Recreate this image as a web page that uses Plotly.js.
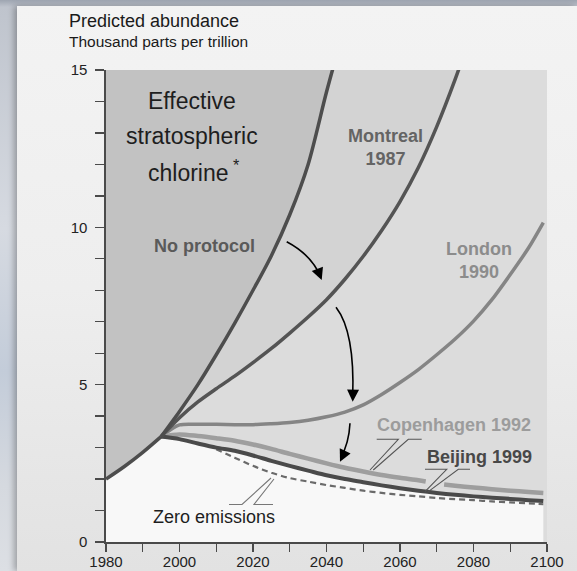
<!DOCTYPE html>
<html>
<head>
<meta charset="utf-8">
<script src="https://cdn.plot.ly/plotly-3.0.1.min.js"></script>
<style>
  html, body { margin:0; padding:0; width:577px; height:571px; overflow:hidden; }
  body { background: linear-gradient(to bottom, #9ea5b1 0px, #bfc4cd 7px, #d6dae1 40%, #c3ccd9 65%, #d5d9df 85%, #dcdfe4 100%); position:relative; }
  #card { position:absolute; left:17px; top:6px; width:560px; height:565px;
          background: linear-gradient(to bottom, #f3f3f3 0%, #eeeeee 50%, #e2e2e2 100%);
          box-shadow: -3px 0 6px rgba(0,0,0,0.28); }
  #chart { position:absolute; left:0; top:0; width:577px; height:571px; }
</style>
</head>
<body>
<div id="card"></div>
<div id="chart"></div>
<script>
// ---- Data (thousand parts per trillion) ----
const histYears = [1980, 1985, 1990, 1995];
const histValues = [2.0, 2.4, 2.85, 3.35];

const noProtocolYears = [1995, 2000, 2005, 2010, 2015, 2020, 2025, 2030, 2035, 2040, 2044];
const noProtocolValues = [3.35, 4.15, 5.0, 5.95, 6.95, 8.0, 9.1, 10.4, 12.0, 14.3, 16.0];

const montrealYears = [1995, 2000, 2005, 2010, 2015, 2020, 2025, 2030, 2035, 2040, 2045, 2050, 2055, 2060, 2065, 2070, 2075, 2078];
const montrealValues = [3.35, 3.95, 4.45, 4.87, 5.27, 5.7, 6.15, 6.64, 7.15, 7.7, 8.35, 9.08, 9.9, 10.82, 11.9, 13.2, 14.7, 15.7];

const londonYears = [1995, 2000, 2005, 2010, 2015, 2020, 2025, 2030, 2035, 2040, 2045, 2050, 2055, 2060, 2065, 2070, 2075, 2080, 2085, 2090, 2095, 2099];
const londonValues = [3.35, 3.72, 3.74, 3.74, 3.73, 3.73, 3.76, 3.8, 3.87, 3.98, 4.13, 4.36, 4.69, 5.07, 5.48, 5.95, 6.45, 7.02, 7.7, 8.5, 9.35, 10.15];

const copenhagenYears = [1995, 2000, 2005, 2010, 2015, 2020, 2025, 2030, 2035, 2040, 2045, 2050, 2055, 2060, 2065, 2067, 2069, 2072, 2075, 2080, 2085, 2090, 2095, 2099];
const copenhagenValues = [3.35, 3.42, 3.37, 3.3, 3.22, 3.1, 2.96, 2.8, 2.65, 2.5, 2.36, 2.24, 2.13, 2.04, 1.96, 1.92, null, 1.83, 1.79, 1.73, 1.68, 1.63, 1.59, 1.56];

const beijingYears = [1995, 2000, 2005, 2010, 2015, 2020, 2025, 2030, 2035, 2040, 2045, 2050, 2055, 2060, 2065, 2070, 2075, 2080, 2085, 2090, 2095, 2099];
const beijingValues = [3.35, 3.27, 3.13, 3.0, 2.9, 2.75, 2.58, 2.42, 2.27, 2.12, 2.0, 1.9, 1.8, 1.71, 1.63, 1.56, 1.5, 1.45, 1.41, 1.37, 1.33, 1.3];

const zeroYears = [2010, 2015, 2020, 2025, 2030, 2035, 2040, 2045, 2050, 2055, 2060, 2065, 2070, 2075, 2080, 2085, 2090, 2095, 2099];
const zeroValues = [2.95, 2.68, 2.42, 2.2, 2.03, 1.92, 1.81, 1.72, 1.63, 1.56, 1.5, 1.45, 1.4, 1.36, 1.33, 1.29, 1.26, 1.23, 1.2];

const xTickVals = [1980, 2000, 2020, 2040, 2060, 2080, 2100];
const xTickText = ['1980', '2000', '2020', '2040', '2060', '2080', '2100'];
const yTickVals = [0, 5, 10, 15];
const yTickText = ['0', '5', '10', '15'];

// ---- Shaded regions built from the series ----
const TOP = 16.5;
const darkX = histYears.concat(noProtocolYears.slice(1), [noProtocolYears[noProtocolYears.length - 1], histYears[0]]);
const darkY = histValues.concat(noProtocolValues.slice(1), [TOP, TOP]);

const midX = montrealYears.concat([montrealYears[montrealYears.length - 1], noProtocolYears[noProtocolYears.length - 1]], noProtocolYears.slice().reverse());
const midY = montrealValues.concat([TOP, TOP], noProtocolValues.slice().reverse());

const lowX = histYears.concat(beijingYears.slice(1));
const lowY = histValues.concat(beijingValues.slice(1));

const FONT = '"Liberation Sans", Arial, Helvetica, sans-serif';

const traces = [
  { x: lowX, y: lowY, mode: 'lines', fill: 'tozeroy', fillcolor: '#f8f8f8', line: { width: 0 }, hoverinfo: 'skip' },
  { x: darkX, y: darkY, mode: 'lines', fill: 'toself', fillcolor: '#c2c2c2', line: { width: 0 }, hoverinfo: 'skip' },
  { x: midX, y: midY, mode: 'lines', fill: 'toself', fillcolor: '#d3d3d3', line: { width: 0 }, hoverinfo: 'skip' },
  { x: zeroYears, y: zeroValues, mode: 'lines', line: { color: '#6a6a6a', width: 2.2, dash: '6px,4px', shape: 'spline', smoothing: 0.8 } },
  { x: londonYears, y: londonValues, mode: 'lines', line: { color: '#858585', width: 3.5, shape: 'spline', smoothing: 0.8 } },
  { x: copenhagenYears, y: copenhagenValues, mode: 'lines', connectgaps: false, line: { color: '#9e9e9e', width: 4.5, shape: 'spline', smoothing: 0.8 } },
  { x: beijingYears, y: beijingValues, mode: 'lines', line: { color: '#4a4a4a', width: 4, shape: 'spline', smoothing: 0.8 } },
  { x: montrealYears, y: montrealValues, mode: 'lines', line: { color: '#545454', width: 3.5, shape: 'spline', smoothing: 0.8 } },
  { x: noProtocolYears, y: noProtocolValues, mode: 'lines', line: { color: '#4d4d4d', width: 3.5, shape: 'spline', smoothing: 0.8 } },
  { x: histYears, y: histValues, mode: 'lines', line: { color: '#4d4d4d', width: 3.5, shape: 'spline', smoothing: 0.8 } }
];

const leader = '#555555';
const shapes = [
  // curved arrows
  { type: 'path', xref: 'x', yref: 'y', path: 'M2029.17,9.543 Q2036.05,9.12 2038.5,8.40', line: { color: '#000', width: 1.6 } },
  { type: 'path', xref: 'x', yref: 'y', path: 'M2042.59,7.459 Q2047.76,6.674 2047.13,4.60', line: { color: '#000', width: 1.6 } },
  { type: 'path', xref: 'x', yref: 'y', path: 'M2046.39,3.772 Q2046.12,3.146 2043.9,2.68', line: { color: '#000', width: 1.6 } },
  // label leaders
  { type: 'path', xref: 'x', yref: 'y', path: 'M2053.66,3.264 L2059.54,3.264 L2051.84,2.288', line: { color: leader, width: 1.1 } },
  { type: 'path', xref: 'x', yref: 'y', path: 'M2052.73,2.288 L2062.26,3.264 L2065.90,3.264', line: { color: leader, width: 1.1 } },
  { type: 'path', xref: 'x', yref: 'y', path: 'M2066.80,2.310 L2072.71,2.310 L2066.80,1.599', line: { color: leader, width: 1.1 } },
  { type: 'path', xref: 'x', yref: 'y', path: 'M2067.70,1.599 L2075.86,2.310 L2079.05,2.310', line: { color: leader, width: 1.1 } },
  { type: 'path', xref: 'x', yref: 'y', path: 'M2013.47,1.192 L2017.01,1.192 L2024.90,2.034', line: { color: '#777', width: 1.1 } },
  { type: 'path', xref: 'x', yref: 'y', path: 'M2025.71,2.002 L2020.27,1.192 L2025.44,1.192', line: { color: '#777', width: 1.1 } }
];

// pixel -> paper helpers for text placement
const L = 106, T = 70, W = 441, H = 472;
const px = v => (v - L) / W;
const py = v => (T + H - v) / H;

function txt(text, x, y, size, color, bold, xanchor) {
  return { xref: 'paper', yref: 'paper', x: px(x), y: py(y), text: bold ? '<b>' + text + '</b>' : text,
    showarrow: false, xanchor: xanchor || 'center', yanchor: 'middle',
    font: { family: FONT, size: size, color: color } };
}
function head(x, y, ax, ay) {
  return { xref: 'x', yref: 'y', x: x, y: y, ax: ax, ay: ay, text: '', showarrow: true,
    arrowhead: 2, arrowsize: 1.5, arrowwidth: 1.6, arrowcolor: '#000', standoff: 0 };
}

const annotations = [
  txt('Predicted abundance', 67, 21, 18, '#1a1a1a', false, 'left'),
  txt('Thousand parts per trillion', 67, 41, 15.5, '#1a1a1a', false, 'left'),
  txt('Effective', 192, 101, 23, '#1e1e1e', false),
  txt('stratospheric', 192, 136, 23, '#1e1e1e', false),
  txt('chlorine<sup> *</sup>', 194, 171, 23, '#1e1e1e', false),
  txt('No protocol', 204, 246, 18, '#5a5a5a', true),
  txt('Montreal<br>1987', 385, 147, 18, '#646464', true),
  txt('London<br>1990', 479, 260, 18, '#8c8c8c', true),
  txt('Copenhagen 1992', 454, 425, 18, '#9c9c9c', true),
  txt('Beijing 1999', 479, 457, 18, '#484848', true),
  txt('Zero emissions', 214, 517, 18, '#1e1e1e', false),
  head(2038.69, 8.326, -3.6, -9.3),
  head(2047.13, 4.459, 0.3, -10),
  head(2043.67, 2.552, 4.3, -9)
];

const layout = {
  width: 577, height: 571,
  margin: { l: L, r: 577 - L - W, t: T, b: 571 - T - H },
  paper_bgcolor: 'rgba(0,0,0,0)',
  plot_bgcolor: '#dcdcdc',
  showlegend: false,
  font: { family: FONT, size: 15, color: '#222' },
  xaxis: {
    range: [1980, 2100], showgrid: false, zeroline: false,
    showline: true, linecolor: '#4a4a4a', linewidth: 1.6,
    ticks: 'outside', ticklen: 8, tickwidth: 1.3, tickcolor: '#4a4a4a',
    tickvals: xTickVals, ticktext: xTickText,
    ticklabelstandoff: -3,
    tickfont: { family: FONT, size: 15, color: '#222' },
    minor: { dtick: 10, tick0: 1980, ticks: 'outside', ticklen: 8, tickwidth: 1.3, tickcolor: '#4a4a4a', showgrid: false },
    fixedrange: true
  },
  yaxis: {
    range: [0, 15], showgrid: false, zeroline: false,
    showline: true, linecolor: '#4a4a4a', linewidth: 1.6,
    ticks: 'outside', ticklen: 9, tickwidth: 1.3, tickcolor: '#4a4a4a',
    tickvals: yTickVals, ticktext: yTickText,
    ticklabelstandoff: 5,
    tickfont: { family: FONT, size: 15, color: '#222' },
    minor: { dtick: 1, tick0: 0, ticks: 'outside', ticklen: 9, tickwidth: 1.3, tickcolor: '#4a4a4a', showgrid: false },
    fixedrange: true
  },
  shapes: shapes,
  annotations: annotations
};

Plotly.newPlot('chart', traces, layout, { displayModeBar: false, staticPlot: true });
</script>
</body>
</html>
